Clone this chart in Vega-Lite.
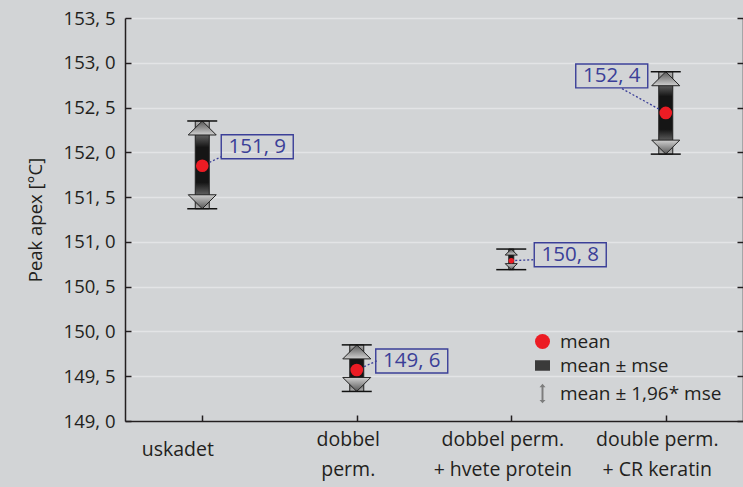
{
  "$schema": "https://vega.github.io/schema/vega-lite/v6.json",
  "width": 618,
  "height": 403,
  "autosize": "none",
  "padding": {"left": 125, "top": 18, "right": 0, "bottom": 66},
  "background": "#d2d4d6",
  "config": {"view": {"stroke": null}, "font": "Open Sans", "text": {"font": "Open Sans"}},
  "data": {"values": [
    {"cat": "uskadet", "mean": 151.85, "lo": 151.37, "hi": 152.35, "label": "151, 9"},
    {"cat": "dobbel perm.", "mean": 149.57, "lo": 149.33, "hi": 149.85, "label": "149, 6"},
    {"cat": "dobbel perm. + hvete protein", "mean": 150.79, "lo": 150.69, "hi": 150.92, "label": "150, 8"},
    {"cat": "double perm. + CR keratin", "mean": 152.44, "lo": 151.98, "hi": 152.9, "label": "152, 4"}
  ]},
  "resolve": {"axis": {"y": "independent"}},
  "layer": [
    {
      "encoding": {
        "x": {"field": "cat", "type": "nominal", "sort": null,
          "scale": {"type": "point", "padding": 0.5},
          "axis": {"title": null, "labelAngle": 0, "domainColor": "#231f20", "domainWidth": 1.5,
            "tickColor": "#231f20", "tickSize": -6, "tickWidth": 1.5, "grid": false,
            "labelFontSize": 19.5, "labelColor": "#231f20", "labelLineHeight": 30,
            "labelBaseline": "middle",
            "labelPadding": {"condition": {"test": "datum.value === 'uskadet'", "value": 34}, "value": 24},
            "labelOffset": {"condition": {"test": "datum.value === 'uskadet'", "value": -25}, "value": -9},
            "labelExpr": "datum.value === 'uskadet' ? 'uskadet' : datum.value === 'dobbel perm.' ? ['dobbel', 'perm.'] : datum.value === 'dobbel perm. + hvete protein' ? ['dobbel perm.', '+ hvete protein'] : ['double perm.', '+ CR keratin']"}}
      },
      "layer": [
        {
          "mark": {"type": "bar", "stroke": "#222", "strokeWidth": 1,
            "color": {"gradient": "linear", "x1": 0, "y1": 0, "x2": 0, "y2": 1,
              "stops": [{"offset": 0, "color": "#b5b5b5"}, {"offset": 0.3, "color": "#151515"}, {"offset": 0.7, "color": "#151515"}, {"offset": 1, "color": "#b5b5b5"}]}},
          "encoding": {
            "y": {"field": "lo", "type": "quantitative",
              "scale": {"domain": [149, 153.5], "zero": false, "nice": false},
              "axis": {"title": "Peak apex [°C]", "titleFontSize": 18.5, "titleFontWeight": "normal", "titleColor": "#231f20", "titlePadding": 18,
                "values": [149, 149.5, 150, 150.5, 151, 151.5, 152, 152.5, 153, 153.5],
                "labelExpr": "replace(format(datum.value, '.1f'), '.', ', ')",
                "labelFontSize": 18.5, "labelColor": "#231f20", "labelPadding": 16,
                "domainColor": "#231f20", "domainWidth": 1.5, "tickColor": "#231f20", "tickSize": -6, "tickWidth": 1.5,
                "grid": true, "gridColor": "#e3e4e6", "gridWidth": 1.3}},
            "y2": {"field": "hi"},
            "size": {"condition": {"test": "datum.cat === 'dobbel perm. + hvete protein'", "value": 5}, "value": 14}
          }
        },
        {
          "mark": {"type": "point", "filled": true, "shape": "M0,0L1,1L-1,1Z", "stroke": "#222", "strokeWidth": 1, "opacity": 1,
            "color": {"gradient": "linear", "x1": 0, "y1": 0, "x2": 0, "y2": 1,
              "stops": [{"offset": 0, "color": "#555"}, {"offset": 1, "color": "#d0d0d0"}]}},
          "encoding": {
            "y": {"field": "hi", "type": "quantitative"},
            "size": {"condition": {"test": "datum.cat === 'dobbel perm. + hvete protein'", "value": 144}, "value": 784}
          }
        },
        {
          "mark": {"type": "point", "filled": true, "shape": "M0,0L1,-1L-1,-1Z", "stroke": "#222", "strokeWidth": 1, "opacity": 1,
            "color": {"gradient": "linear", "x1": 0, "y1": 0, "x2": 0, "y2": 1,
              "stops": [{"offset": 0, "color": "#d0d0d0"}, {"offset": 1, "color": "#555"}]}},
          "encoding": {
            "y": {"field": "lo", "type": "quantitative"},
            "size": {"condition": {"test": "datum.cat === 'dobbel perm. + hvete protein'", "value": 144}, "value": 784}
          }
        },
        {
          "mark": {"type": "tick", "orient": "horizontal", "size": 30, "thickness": 1.5, "color": "#111", "opacity": 1},
          "encoding": {"y": {"field": "hi", "type": "quantitative"}}
        },
        {
          "mark": {"type": "tick", "orient": "horizontal", "size": 30, "thickness": 1.5, "color": "#111", "opacity": 1},
          "encoding": {"y": {"field": "lo", "type": "quantitative"}}
        },
        {
          "transform": [{"filter": "datum.cat === 'uskadet'"}],
          "layer": [
            {"mark": {"type": "rule", "color": "#3b3f98", "strokeWidth": 1.3, "strokeDash": [2, 2], "x2Offset": 19, "y2Offset": -9},
             "encoding": {"y": {"field": "mean", "type": "quantitative"}, "y2": {"field": "mean"}, "x2": {"field": "cat"}}},
            {"mark": {"type": "point", "shape": "M-1,-0.333L1,-0.333L1,0.333L-1,0.333Z", "size": 5184, "filled": false, "color": "#3b3f98", "strokeWidth": 1.4, "opacity": 1, "xOffset": 55, "yOffset": -19},
             "encoding": {"y": {"field": "mean", "type": "quantitative"}}},
            {"mark": {"type": "text", "color": "#3b3f98", "fontSize": 20.5, "align": "center", "baseline": "middle", "xOffset": 55, "yOffset": -19},
             "encoding": {"y": {"field": "mean", "type": "quantitative"}, "text": {"field": "label"}}}
          ]
        },
        {
          "transform": [{"filter": "datum.cat === 'dobbel perm.'"}],
          "layer": [
            {"mark": {"type": "rule", "color": "#3b3f98", "strokeWidth": 1.3, "strokeDash": [2, 2], "x2Offset": 20, "y2Offset": -9},
             "encoding": {"y": {"field": "mean", "type": "quantitative"}, "y2": {"field": "mean"}, "x2": {"field": "cat"}}},
            {"mark": {"type": "point", "shape": "M-1,-0.333L1,-0.333L1,0.333L-1,0.333Z", "size": 5184, "filled": false, "color": "#3b3f98", "strokeWidth": 1.4, "opacity": 1, "xOffset": 55, "yOffset": -9},
             "encoding": {"y": {"field": "mean", "type": "quantitative"}}},
            {"mark": {"type": "text", "color": "#3b3f98", "fontSize": 20.5, "align": "center", "baseline": "middle", "xOffset": 55, "yOffset": -9},
             "encoding": {"y": {"field": "mean", "type": "quantitative"}, "text": {"field": "label"}}}
          ]
        },
        {
          "transform": [{"filter": "datum.cat === 'dobbel perm. + hvete protein'"}],
          "layer": [
            {"mark": {"type": "rule", "color": "#3b3f98", "strokeWidth": 1.3, "strokeDash": [2, 2], "x2Offset": 23, "y2Offset": -1},
             "encoding": {"y": {"field": "mean", "type": "quantitative"}, "y2": {"field": "mean"}, "x2": {"field": "cat"}}},
            {"mark": {"type": "point", "shape": "M-1,-0.333L1,-0.333L1,0.333L-1,0.333Z", "size": 5184, "filled": false, "color": "#3b3f98", "strokeWidth": 1.4, "opacity": 1, "xOffset": 59, "yOffset": -6},
             "encoding": {"y": {"field": "mean", "type": "quantitative"}}},
            {"mark": {"type": "text", "color": "#3b3f98", "fontSize": 20.5, "align": "center", "baseline": "middle", "xOffset": 59, "yOffset": -6},
             "encoding": {"y": {"field": "mean", "type": "quantitative"}, "text": {"field": "label"}}}
          ]
        },
        {
          "transform": [{"filter": "datum.cat === 'double perm. + CR keratin'"}],
          "layer": [
            {"mark": {"type": "rule", "color": "#3b3f98", "strokeWidth": 1.3, "strokeDash": [2, 2], "x2Offset": -45, "y2Offset": -25},
             "encoding": {"y": {"field": "mean", "type": "quantitative"}, "y2": {"field": "mean"}, "x2": {"field": "cat"}}},
            {"mark": {"type": "point", "shape": "M-1,-0.333L1,-0.333L1,0.333L-1,0.333Z", "size": 5184, "filled": false, "color": "#3b3f98", "strokeWidth": 1.4, "opacity": 1, "xOffset": -54, "yOffset": -37},
             "encoding": {"y": {"field": "mean", "type": "quantitative"}}},
            {"mark": {"type": "text", "color": "#3b3f98", "fontSize": 20.5, "align": "center", "baseline": "middle", "xOffset": -54, "yOffset": -37},
             "encoding": {"y": {"field": "mean", "type": "quantitative"}, "text": {"field": "label"}}}
          ]
        },
        {
          "mark": {"type": "point", "filled": true, "shape": "circle", "color": "#ec1c24", "opacity": 1},
          "encoding": {
            "y": {"field": "mean", "type": "quantitative"},
            "size": {"condition": {"test": "datum.cat === 'dobbel perm. + hvete protein'", "value": 30}, "value": 160}
          }
        }
      ]
    },
    {
      "mark": {"type": "point", "opacity": 0},
      "encoding": {
        "y": {"field": "mean", "type": "quantitative",
          "axis": {"orient": "right", "title": null, "labels": false, "grid": false,
            "values": [149, 149.5, 150, 150.5, 151, 151.5, 152, 152.5, 153, 153.5],
            "domainColor": "#231f20", "domainWidth": 1.5, "tickColor": "#231f20", "tickSize": -6, "tickWidth": 1.5}}
      }
    },
    {
      "data": {"values": [{"item": "mean"}, {"item": "mean ± mse"}, {"item": "mean ± 1,96* mse"}]},
      "mark": {"type": "point", "filled": true, "opacity": 0},
      "encoding": {
        "color": {"field": "item", "type": "nominal",
          "scale": {"domain": ["mean", "mean ± mse", "mean ± 1,96* mse"], "range": ["#ec1c24", "#3a3a3a", "#7d7d7d"]},
          "legend": {"orient": "none", "legendX": 408, "legendY": 314, "title": null, "labelFontSize": 19, "labelColor": "#231f20", "labelFont": "Open Sans", "labelLimit": 0,
            "symbolSize": 225, "symbolOpacity": 1, "rowPadding": 4, "labelOffset": 8}},
        "shape": {"field": "item", "type": "nominal",
          "scale": {"domain": ["mean", "mean ± mse", "mean ± 1,96* mse"], "range": ["circle", "M-1,-0.7L1,-0.7L1,0.7L-1,0.7Z", "M0,-1.3L0.4,-0.85L0.13,-0.85L0.13,0.85L0.4,0.85L0,1.3L-0.4,0.85L-0.13,0.85L-0.13,-0.85L-0.4,-0.85Z"]},
          "legend": {"orient": "none", "legendX": 408, "legendY": 314, "title": null, "labelFontSize": 19, "labelColor": "#231f20", "labelFont": "Open Sans", "labelLimit": 0,
            "symbolSize": 225, "symbolOpacity": 1, "rowPadding": 4, "labelOffset": 8}}
      }
    }
  ]
}
